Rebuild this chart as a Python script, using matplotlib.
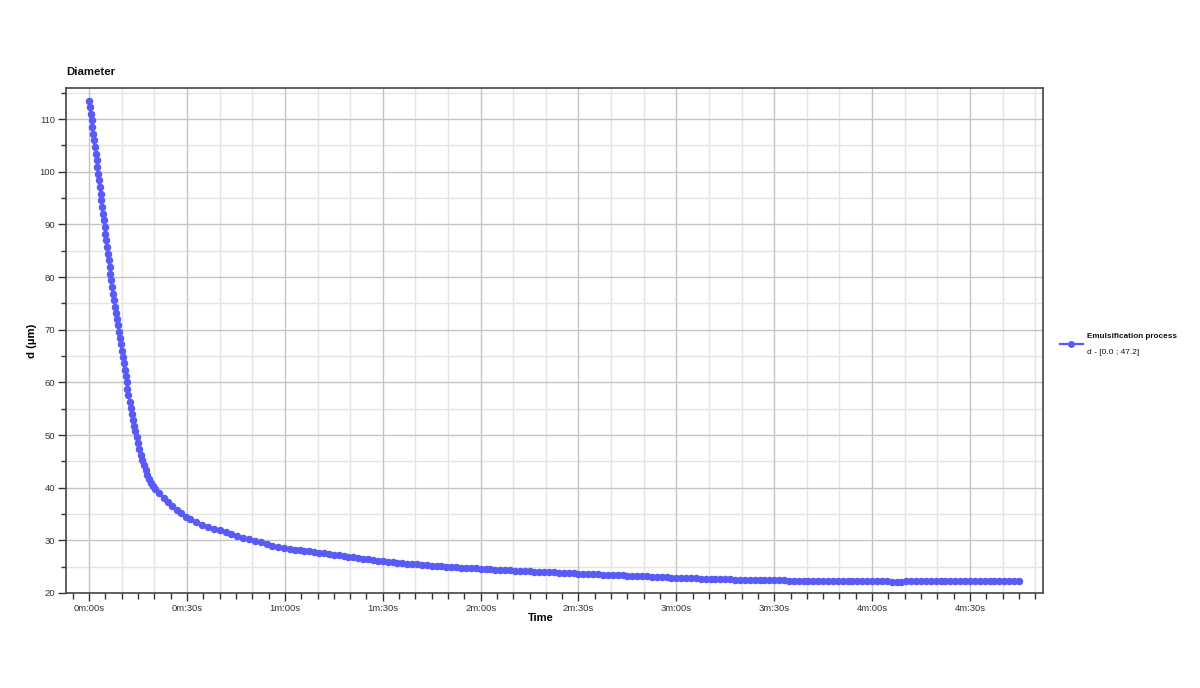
import matplotlib
matplotlib.use("Agg")
import matplotlib.pyplot as plt
from matplotlib.ticker import MultipleLocator, FuncFormatter
from matplotlib.lines import Line2D

plt.rcParams['font.family'] = ['Liberation Sans', 'DejaVu Sans']

# time in seconds
time_s = [
    0, 0.25, 0.5, 0.75, 1, 1.25, 1.5, 1.75, 2, 2.25, 2.5, 2.75, 3, 3.25, 3.5,
    3.75, 4, 4.25, 4.5, 4.75, 5, 5.25, 5.5, 5.75, 6, 6.25, 6.5, 6.75, 7, 7.25,
    7.55, 7.85, 8.15, 8.45, 8.75, 9.05, 9.35, 9.65, 9.95, 10.25, 10.55, 10.85,
    11.15, 11.45, 11.75, 12.05,
    12.4, 12.75, 13.1, 13.45, 13.8, 14.2, 14.6, 15.0, 15.4, 15.85, 16.3, 16.8,
    17.3, 17.8, 18.35, 18.9, 19.5, 20.2,
    21.5, 22.8, 24.1, 25.4, 26.8, 28.2, 29.6, 31.0, 32.8, 34.6, 36.4, 38.2,
    40.0, 41.8, 43.6, 45.4, 47.2, 49.0, 50.8, 52.6, 54.4, 56.2, 58.0, 59.8,
    61.5, 63, 64.5, 66, 67.5, 69, 70.5, 72, 73.5, 75, 76.5, 78, 79.5, 81, 82.5,
    84, 85.5, 87, 88.5, 90, 91.5, 93, 94.5, 96, 97.5, 99, 100.5, 102, 103.5, 105,
    106.5, 108, 109.5, 111, 112.5, 114, 115.5, 117, 118.5, 120, 121.5, 123,
    124.5, 126, 127.5, 129, 130.5, 132, 133.5, 135, 136.5, 138, 139.5, 141,
    142.5, 144, 145.5, 147, 148.5, 150, 151.5, 153, 154.5, 156, 157.5, 159,
    160.5, 162, 163.5, 165, 166.5, 168, 169.5, 171, 172.5, 174, 175.5, 177,
    178.5, 180, 181.5, 183, 184.5, 186, 187.5, 189, 190.5, 192, 193.5, 195,
    196.5, 198, 199.5, 201, 202.5, 204, 205.5, 207, 208.5, 210, 211.5, 213,
    214.5, 216, 217.5, 219, 220.5, 222, 223.5, 225, 226.5, 228, 229.5, 231,
    232.5, 234, 235.5, 237, 238.5, 240, 241.5, 243, 244.5, 246, 247.5, 249,
    250.5, 252, 253.5, 255, 256.5, 258, 259.5, 261, 262.5, 264, 265.5, 267,
    268.5, 270, 271.5, 273, 274.5, 276, 277.5, 279, 280.5, 282, 283.5, 285,
]

# diameter in micrometres
diameter_um = [
    113.5, 112.3, 111.0, 109.8, 108.5, 107.2, 106.0, 104.7, 103.4, 102.2, 100.9,
    99.6, 98.4, 97.1, 95.8, 94.6, 93.3, 92.0, 90.8, 89.5, 88.2, 87.0, 85.7, 84.4,
    83.2, 81.9, 80.6, 79.4, 78.1, 76.8,
    75.6, 74.4, 73.2, 72.0, 70.8, 69.6, 68.4, 67.2, 66.0, 64.8, 63.6, 62.4, 61.2,
    60.0, 58.8, 57.6,
    56.3, 55.1, 54.0, 52.9, 51.8, 50.7, 49.6, 48.5, 47.4, 46.3, 45.3, 44.3, 43.4,
    42.5, 41.7, 40.9, 40.3, 39.7,
    38.9, 38.1, 37.3, 36.6, 35.8, 35.1, 34.5, 34.0, 33.5, 33.0, 32.6, 32.2, 31.9,
    31.5, 31.2, 30.8, 30.5, 30.2, 29.9, 29.6, 29.3, 29.0, 28.8, 28.5,
    28.38, 28.26, 28.14, 28.02, 27.90, 27.78, 27.66, 27.54, 27.42, 27.30,
    27.17, 27.04, 26.91, 26.78, 26.65, 26.52, 26.39, 26.26, 26.13, 26.00,
    25.92, 25.84, 25.76, 25.68, 25.60, 25.52, 25.44, 25.36, 25.28, 25.20,
    25.14, 25.08, 25.02, 24.96, 24.90, 24.84, 24.78, 24.72, 24.66, 24.60,
    24.55, 24.50, 24.45, 24.40, 24.35, 24.30, 24.25, 24.20, 24.15, 24.10,
    24.06, 24.02, 23.98, 23.94, 23.90, 23.86, 23.82, 23.78, 23.74, 23.70,
    23.66, 23.62, 23.58, 23.54, 23.50, 23.46, 23.42, 23.38, 23.34, 23.30,
    23.26, 23.22, 23.18, 23.14, 23.10, 23.06, 23.02, 22.98, 22.94, 22.90,
    22.87, 22.84, 22.81, 22.78, 22.75, 22.72, 22.69, 22.66, 22.63, 22.60,
    22.58, 22.56, 22.54, 22.52, 22.50, 22.48, 22.46, 22.44, 22.42, 22.40,
    22.39, 22.38, 22.37, 22.36, 22.35, 22.34, 22.33, 22.32, 22.31, 22.30,
    22.29, 22.28, 22.27, 22.26, 22.25, 22.24, 22.23, 22.22, 22.21, 22.20,
    22.20, 22.19, 22.19, 22.18, 22.18, 22.18, 22.19, 22.19, 22.20, 22.20,
    22.21, 22.21, 22.22, 22.22, 22.23, 22.22, 22.22, 22.21, 22.21, 22.20,
    22.20, 22.21, 22.21, 22.22, 22.22, 22.22, 22.23, 22.23, 22.23, 22.24,
]

series_title = 'Emulsification process'
series_label = 'd - [0.0 ; 47.2]'
line_color = '#5a5af5'

fig = plt.figure(figsize=(12, 6.88), dpi=100)
ax = fig.add_axes([66 / 1200, 1 - 593 / 688, 977 / 1200, 505 / 688])

# grid: major every 30 s / 10 um, minor every 10 s / 5 um
for gx in range(0, 300, 10):
    if gx % 30:
        ax.axvline(gx, color='#e4e4e4', lw=1, zorder=0)
for gy in range(25, 116, 10):
    ax.axhline(gy, color='#e4e4e4', lw=1, zorder=0)
ax.xaxis.set_major_locator(MultipleLocator(30))
ax.xaxis.set_minor_locator(MultipleLocator(5))
ax.yaxis.set_major_locator(MultipleLocator(10))
ax.yaxis.set_minor_locator(MultipleLocator(5))
ax.grid(True, which='major', color='#c4c4c4', lw=1, zorder=0)
ax.set_axisbelow(True)

ax.plot(time_s, diameter_um, color=line_color, lw=1.6, marker='o', ms=4.4,
        mec=line_color, mfc=line_color, zorder=3, clip_on=False)

ax.set_xlim(-7.1, 292.4)
ax.set_ylim(20, 115.9)

ax.xaxis.set_major_formatter(FuncFormatter(lambda v, p: f'{int(v) // 60}m:{int(v) % 60:02d}s'))
ax.tick_params(axis='both', which='both', direction='out', colors='#333333',
               labelsize=6.8, width=1)
ax.tick_params(axis='x', which='major', length=6, pad=2)
ax.tick_params(axis='x', which='minor', length=4)
ax.tick_params(axis='y', which='major', length=6, pad=2)
ax.tick_params(axis='y', which='minor', length=3.5)
for sp in ax.spines.values():
    sp.set_color('#444444')
    sp.set_linewidth(1.2)

ax.set_xlabel('Time', fontsize=8, fontweight='bold', labelpad=2)
ax.xaxis.set_label_coords(0.486, -0.04)
ax.set_ylabel('d (µm)', fontsize=8.2, fontweight='bold')
ax.yaxis.set_label_coords(-0.03, 0.5)
fig.text(66 / 1200, 1 - 72 / 688, 'Diameter', fontsize=8.2, fontweight='bold',
         va='center', ha='left', color='#111111')

# legend outside right: handle between the two text lines
fig.add_artist(Line2D([1060 / 1200, 1083 / 1200], [1 - 344 / 688, 1 - 344 / 688],
                      transform=fig.transFigure, color=line_color, lw=1.6))
fig.add_artist(Line2D([1071 / 1200], [1 - 344 / 688], transform=fig.transFigure,
                      color=line_color, marker='o', ms=4, lw=0))
fig.text(1087 / 1200, 1 - 336 / 688, series_title, fontsize=5.9,
         fontweight='bold', va='center', ha='left', color='#111111')
fig.text(1087 / 1200, 1 - 352 / 688, series_label, fontsize=6.0,
         va='center', ha='left', color='#111111')

fig.savefig('out.png', dpi=100)
